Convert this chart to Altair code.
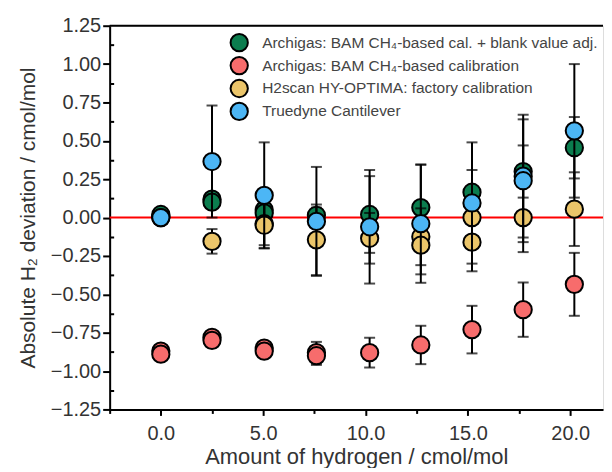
import altair as alt
import pandas as pd

series_names = [
    "Archigas: BAM CH₄-based cal. + blank value adj.",
    "Archigas: BAM CH₄-based calibration",
    "H2scan HY-OPTIMA: factory calibration",
    "Truedyne Cantilever",
]
series_colors = ["#0b7d4e", "#f76c6c", "#ebc56a", "#4cb6f5"]

green_x = [0.0, 0.0, 2.5, 2.5, 5.05, 5.05, 7.6, 10.2, 12.7, 15.2, 17.7, 20.2]
green_y = [0.01, 0.02, 0.12, 0.10, 0.05, 0.03, 0.015, 0.02, 0.065, 0.165, 0.30, 0.455]
green_e = [0.02, 0.02, 0.03, 0.03, 0.04, 0.04, 0.05, 0.25, 0.28, 0.145, 0.17, 0.20]

red_x = [0.0, 0.0, 2.5, 2.5, 5.05, 5.05, 7.6, 7.6, 10.2, 12.7, 15.2, 17.7, 20.2]
red_y = [-0.87, -0.89, -0.78, -0.80, -0.85, -0.87, -0.88, -0.90, -0.88, -0.83, -0.73, -0.60, -0.435]
red_e = [0.02, 0.02, 0.03, 0.03, 0.02, 0.02, 0.07, 0.06, 0.097, 0.125, 0.155, 0.177, 0.205]

yellow_x = [0.0, 2.5, 5.05, 5.05, 7.6, 10.2, 12.7, 12.7, 15.2, 15.2, 17.7, 20.2]
yellow_y = [0.0, -0.155, -0.04, -0.05, -0.145, -0.135, -0.125, -0.18, 0.0, -0.16, 0.0, 0.055]
yellow_e = [0.02, 0.08, 0.14, 0.15, 0.23, 0.165, 0.185, 0.19, 0.03, 0.19, 0.225, 0.24]

blue_x = [0.0, 2.5, 5.05, 7.6, 10.2, 12.7, 15.2, 17.7, 17.7, 20.2]
blue_y = [0.0, 0.365, 0.145, -0.025, -0.06, -0.04, 0.095, 0.27, 0.24, 0.565]
blue_e = [0.02, 0.365, 0.345, 0.355, 0.37, 0.385, 0.395, 0.40, 0.40, 0.435]

x_ticks = [-2.5, 0.0, 2.5, 5.0, 7.5, 10.0, 12.5, 15.0, 17.5, 20.0]
y_major = [-1.25, -1.0, -0.75, -0.5, -0.25, 0.0, 0.25, 0.5, 0.75, 1.0, 1.25]
y_minor = [-1.125, -0.875, -0.625, -0.375, -0.125, 0.125, 0.375, 0.625, 0.875, 1.125]

all_x = [green_x, red_x, yellow_x, blue_x]
all_y = [green_y, red_y, yellow_y, blue_y]
all_e = [green_e, red_e, yellow_e, blue_e]

FONT = "Liberation Sans"
W, H = 495, 385

xscale = alt.Scale(domain=[-2.5, 21.6], nice=False, zero=False)
yscale = alt.Scale(domain=[-1.25, 1.25], nice=False, zero=False)
fillscale = alt.Scale(domain=series_names, range=series_colors)

X_MAJOR = "datum.value % 5 === 0"

xaxis = alt.Axis(
    values=x_ticks, format=".1f", title="Amount of hydrogen / cmol/mol",
    labelExpr=f"{X_MAJOR} ? datum.label : ''", labelOverlap=False,
    tickSize={"condition": {"test": X_MAJOR, "value": 6}, "value": 4},
    grid=False, domainColor="black", domainWidth=2, tickColor="black", tickWidth=2,
    labelFont=FONT, labelFontSize=20, labelColor="#333", labelPadding=8,
    titleFontSize=22, titleFont=FONT, titleColor="#333", titleFontWeight="normal",
    titlePadding=3,
)
yaxis = alt.Axis(
    values=y_major, format=".2f", title="Absolute H₂ deviation / cmol/mol",
    labelOverlap=False, tickSize=7,
    grid=False, domainColor="black", domainWidth=2, tickColor="black", tickWidth=2,
    labelFont=FONT, labelFontSize=20, labelColor="#333", labelPadding=2,
    titleFontSize=21, titleFont=FONT, titleColor="#333", titleFontWeight="normal",
    titlePadding=12,
)
yaxis_minor = alt.Axis(
    values=y_minor, orient="left", offset=-4, tickSize=4, tickColor="black", tickWidth=2,
    labels=False, domain=False, grid=False, title=None,
)

rows = []
for name, xs, ys, es in zip(series_names, all_x, all_y, all_e):
    for xv, yv, ev in zip(xs, ys, es):
        rows.append({"series": name, "x": xv, "y": yv, "err": ev})
df = pd.DataFrame(rows)

base = alt.Chart(df).transform_calculate(
    lo="datum.y - datum.err", hi="datum.y + datum.err"
)

zero_line = alt.Chart(pd.DataFrame({"z": [0.0]})).mark_rule(
    color="#ff0000", strokeWidth=2
).encode(
    y=alt.Y("z:Q", scale=yscale, axis=yaxis),
)

layers = [zero_line]
for i, name in enumerate(series_names):
    sb = base.transform_filter(alt.datum.series == name)
    bar = sb.mark_rule(color="black", strokeWidth=2).encode(
        x=alt.X("x:Q", scale=xscale, axis=xaxis),
        y=alt.Y("lo:Q", scale=yscale, axis=None),
        y2="hi:Q",
    )
    cap_lo = sb.mark_tick(color="black", orient="horizontal", size=11, thickness=2).encode(
        x=alt.X("x:Q", scale=xscale), y=alt.Y("lo:Q", scale=yscale, axis=None)
    )
    cap_hi = sb.mark_tick(color="black", orient="horizontal", size=11, thickness=2).encode(
        x=alt.X("x:Q", scale=xscale), y=alt.Y("hi:Q", scale=yscale, axis=None)
    )
    pts = sb.mark_point(filled=True, opacity=1, stroke="black", strokeWidth=2, size=300, shape="circle").encode(
        x=alt.X("x:Q", scale=xscale),
        y=alt.Y("y:Q", scale=yscale, axis=yaxis_minor if i == 0 else None),
        fill=alt.Fill(
            "series:N", scale=fillscale,
            legend=alt.Legend(
                title=None, orient="none", legendX=120, legendY=7,
                labelFont=FONT, labelFontSize=15.5, labelColor="#444", labelLimit=500,
                symbolType="circle", symbolSize=300, symbolStrokeColor="black",
                symbolStrokeWidth=2, symbolOpacity=1, rowPadding=-5.5, labelOffset=13, padding=0,
            ),
        ),
    )
    layers += [bar, cap_lo, cap_hi, pts]

top_border = alt.Chart(pd.DataFrame({"z": [0]})).mark_rule(color="black", strokeWidth=2).encode(
    x=alt.value(0), x2=alt.value(W), y=alt.value(0)
)
layers.append(top_border)

chart = alt.layer(*layers).resolve_axis(y="independent").properties(
    width=W, height=H, padding={"top": 7, "left": 9, "right": 0, "bottom": 0}
).configure_view(stroke=None).configure(background="white")

chart.save("out.html", embed_options={"renderer": "svg", "actions": False})
